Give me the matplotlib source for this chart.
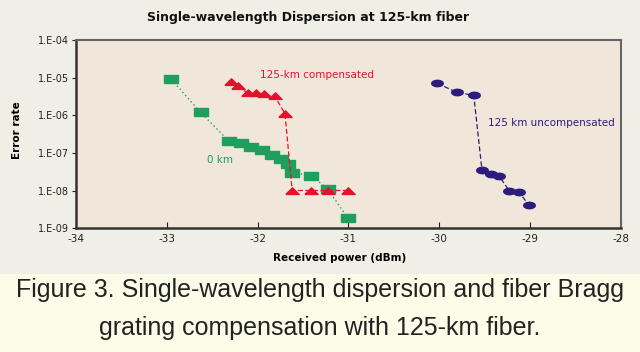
import matplotlib.pyplot as plt
import matplotlib.patches as mpatches
import numpy as np

# values
x_0km = [-32.95, -32.63, -32.32, -32.18, -32.07, -31.95, -31.84, -31.74, -31.67, -31.62, -31.41, -31.23, -31.01]
y_0km = [9e-6, 1.2e-6, 2.1e-7, 1.8e-7, 1.4e-7, 1.2e-7, 8.6e-8, 7.1e-8, 5.2e-8, 3.0e-8, 2.5e-8, 1.1e-8, 1.9e-9]

x_comp = [-32.29, -32.22, -32.11, -32.02, -31.93, -31.81, -31.70, -31.62, -31.41, -31.23, -31.01]
y_comp = [7.6e-6, 5.9e-6, 3.9e-6, 3.9e-6, 3.6e-6, 3.2e-6, 1.1e-6, 1e-8, 1e-8, 1e-8, 1e-8]

x_uncomp = [-30.02, -29.81, -29.62, -29.53, -29.43, -29.34, -29.23, -29.12, -29.01]
y_uncomp = [7.1e-6, 4.1e-6, 3.4e-6, 3.6e-8, 2.8e-8, 2.4e-8, 1.0e-8, 9e-9, 4e-9]

x_ticks = [-34, -33, -32, -31, -30, -29, -28]
y_ticks = [1e-9, 1e-8, 1e-7, 1e-6, 1e-5, 1e-4]
y_ticklabels = ['1.E-09', '1.E-08', '1.E-07', '1.E-06', '1.E-05', '1.E-04']

green = '#1f9e5e'
red = '#e3122c'
navy = '#2c1c7c'
narrow = ['Liberation Sans Narrow', 'DejaVu Sans']

fig = plt.figure(figsize=(6.4, 3.52), dpi=100)
fig.patch.set_facecolor('#fcfde8')
# upper panel background
fig.add_artist(mpatches.Rectangle((0, 0.222), 1, 0.778, transform=fig.transFigure,
                                  facecolor='#f0efe6', edgecolor='none', zorder=0))

ax = fig.add_axes([0.119, 0.352, 0.851, 0.534])
ax.set_facecolor('#f1e6da')

# marker shapes: flat rectangles / triangles / ellipses like the original
rect = [(-1.7, -1), (1.7, -1), (1.7, 1), (-1.7, 1), (-1.7, -1)]
tri = [(-1.8, -0.8), (1.8, -0.8), (0, 1), (-1.8, -0.8)]
ell = [(np.cos(t) * 1.8, np.sin(t)) for t in np.linspace(0, 2 * np.pi, 13)]

ax.plot(x_0km, y_0km, color=green, linestyle=(0, (1, 2)), linewidth=1,
        marker=rect, markersize=9.5, markerfacecolor=green, markeredgecolor=green)
ax.plot(x_comp, y_comp, color=red, linestyle=(0, (4, 2)), linewidth=0.9,
        marker=tri, markersize=9.5, markerfacecolor=red, markeredgecolor=red)
ax.plot(x_uncomp, y_uncomp, color=navy, linestyle=(0, (4, 2)), linewidth=0.9,
        marker=ell, markersize=8.5, markerfacecolor=navy, markeredgecolor=navy)

ax.set_yscale('log')
ax.set_xlim(-34, -28)
ax.set_ylim(1e-9, 1e-4)
ax.set_xticks(x_ticks)
ax.set_xticklabels([str(t) for t in x_ticks], fontsize=7.5, family=narrow)
ax.set_yticks(y_ticks)
ax.set_yticklabels(y_ticklabels, fontsize=7, family=narrow)
ax.yaxis.set_minor_locator(plt.NullLocator())
ax.tick_params(axis='x', direction='in', length=4, width=0.8, pad=4, colors='#222222')
ax.tick_params(axis='y', direction='out', length=3, width=0.8, pad=2, colors='#222222')

for side in ['left', 'bottom']:
    ax.spines[side].set_linewidth(1.8)
    ax.spines[side].set_color('#333333')
for side in ['top', 'right']:
    ax.spines[side].set_linewidth(1.5)
    ax.spines[side].set_color('#666666')

ax.text(-31.98, 1.2e-5, '125-km compensated', color=red, fontsize=7.5, family=narrow,
        va='center', ha='left')
ax.text(-32.56, 6.3e-8, '0 km', color=green, fontsize=7.5, family=narrow,
        va='center', ha='left')
ax.text(-29.46, 6.1e-7, '125 km uncompensated', color=navy, fontsize=7.5, family=narrow,
        va='center', ha='left')

ax.set_xlabel('Received power (dBm)', fontsize=7.5, family=narrow, fontweight='bold')
ax.xaxis.set_label_coords(0.484, -0.13)
ax.set_ylabel('Error rate', fontsize=7.5, family=narrow, fontweight='bold')
ax.yaxis.set_label_coords(-0.1, 0.52)

fig.text(0.481, 0.949, 'Single-wavelength Dispersion at 125-km fiber', ha='center', va='center',
         fontsize=9, fontweight='bold', family=narrow, color='#111111')

fig.text(0.5, 0.176, 'Figure 3. Single-wavelength dispersion and fiber Bragg', ha='center',
         va='center', fontsize=18, family=['Liberation Sans', 'DejaVu Sans'], color='#222222')
fig.text(0.5, 0.068, 'grating compensation with 125-km fiber.', ha='center',
         va='center', fontsize=18, family=['Liberation Sans', 'DejaVu Sans'], color='#222222')

fig.savefig('out.png', dpi=100, facecolor=fig.get_facecolor())
